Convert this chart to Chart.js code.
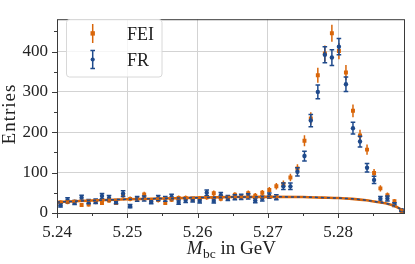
<!DOCTYPE html>
<html>
<head>
<meta charset="utf-8">
<script src="https://cdn.jsdelivr.net/npm/chart.js@4.4.1/dist/chart.umd.min.js"></script>
<style>
  html, body { margin: 0; padding: 0; background: #fff; }
  #wrap { width: 415px; height: 264px; }
</style>
</head>
<body>
<div id="wrap"><canvas id="chart"></canvas></div>
<script>
// bin centres in GeV (50 bins, 5.24 - 5.2895)
const binCenters = [
  5.2405, 5.2415, 5.2425, 5.2435, 5.2445, 5.2455, 5.2464, 5.2474, 5.2484, 5.2494,
  5.2504, 5.2514, 5.2524, 5.2534, 5.2544, 5.2554, 5.2563, 5.2573, 5.2583, 5.2593,
  5.2603, 5.2613, 5.2623, 5.2633, 5.2643, 5.2653, 5.2662, 5.2672, 5.2682, 5.2692,
  5.2702, 5.2712, 5.2722, 5.2732, 5.2742, 5.2752, 5.2761, 5.2771, 5.2781, 5.2791,
  5.2801, 5.2811, 5.2821, 5.2831, 5.2841, 5.2851, 5.2860, 5.2870, 5.2880, 5.2890
];
const feiCounts = [
  26, 27, 28, 20, 21, 27, 25, 31, 25, 44,
  35, 35, 46, 30, 32, 25, 33, 37, 37, 33,
  36, 39, 49, 35, 36, 45, 40, 49, 43, 50,
  57, 66, 72, 88, 110, 179, 234, 341, 395, 445,
  401, 348, 253, 192, 157, 99, 61, 44, 29, 5
];
const feiErrors = [
  5.1, 5.2, 5.3, 4.5, 4.6, 5.2, 5.0, 5.6, 5.0, 6.6,
  5.9, 5.9, 6.8, 5.5, 5.7, 5.0, 5.7, 6.1, 6.1, 5.7,
  6.0, 6.2, 7.0, 5.9, 6.0, 6.7, 6.3, 7.0, 6.6, 7.1,
  7.5, 8.1, 8.5, 9.4, 10.5, 13.4, 15.3, 18.5, 19.9, 21.1,
  20.0, 18.7, 15.9, 13.9, 12.5, 9.9, 7.8, 6.6, 5.4, 2.2
];
const frCounts = [
  19, 32, 26, 38, 28, 29, 42, 37, 28, 48,
  17, 35, 36, 28, 37, 35, 40, 27, 32, 33,
  30, 50, 30, 44, 37, 39, 40, 41, 31, 36,
  43, 39, 66, 66, 102, 141, 229, 300, 392, 385,
  412, 319, 210, 177, 112, 82, 35, 36, 21, 7
];
const frErrors = [
  4.4, 5.7, 5.1, 6.2, 5.3, 5.4, 6.5, 6.1, 5.3, 6.9,
  4.1, 5.9, 6.0, 5.3, 6.1, 5.9, 6.3, 5.2, 5.7, 5.7,
  5.5, 7.1, 5.5, 6.6, 6.1, 6.2, 6.3, 6.4, 5.6, 6.0,
  6.6, 6.2, 8.1, 8.1, 10.1, 11.9, 15.1, 17.3, 19.8, 19.6,
  20.3, 17.9, 14.5, 13.3, 10.6, 9.1, 5.9, 6.0, 4.6, 2.6
];
// background (ARGUS-like) fit curves
const bkgMass = [5.2400, 5.2450, 5.2500, 5.2550, 5.2600, 5.2650, 5.2700, 5.2750, 5.2780,
                 5.2800, 5.2820, 5.2840, 5.2860, 5.2870, 5.2880, 5.2885, 5.2890, 5.2895];
const bkgFEI = [27, 31, 34, 36, 38, 39.5, 40, 39.5, 38, 37, 35, 31.5, 26, 23, 17.5, 13.5, 8, 0];
const bkgFR  = [27, 31, 34, 36, 38, 39.5, 40, 39.5, 38, 37, 35, 31.5, 26, 23, 17.5, 13.5, 8, 0];
const xTicks = [5.24, 5.25, 5.26, 5.27, 5.28];
const yTicks = [0, 100, 200, 300, 400];

const ORANGE = '#d9660a';
const BLUE = '#1f4a8c';
const SERIF = '"Liberation Serif", "DejaVu Serif", serif';

const pts = (xs, ys) => xs.map((x, i) => ({ x, y: ys[i] }));
const isMajorX = v => xTicks.some(t => Math.abs(t - v) < 1e-6);
const isMajorY = v => yTicks.includes(Math.round(v));

function drawErrorBar(ctx, px, top, bot, color, cap) {
    ctx.strokeStyle = color;
    ctx.lineWidth = 1.5;
    ctx.beginPath();
    ctx.moveTo(px, top); ctx.lineTo(px, bot);
    if (cap) {
        ctx.moveTo(px - cap, top); ctx.lineTo(px + cap, top);
        ctx.moveTo(px - cap, bot); ctx.lineTo(px + cap, bot);
    }
    ctx.stroke();
}

const errorBars = {
    id: 'errorBars',
    beforeDatasetDraw(chart, args) {
        const ds = chart.data.datasets[args.index];
        if (!ds.errors) return;
        const { x, y } = chart.scales;
        const ctx = chart.ctx;
        ctx.save();
        ctx.beginPath();
        ctx.rect(chart.chartArea.left, chart.chartArea.top, chart.chartArea.width, chart.chartArea.height);
        ctx.clip();
        ds.data.forEach((p, i) => {
            const px = x.getPixelForValue(p.x);
            drawErrorBar(ctx, px, y.getPixelForValue(p.y + ds.errors[i]), y.getPixelForValue(p.y - ds.errors[i]), ds.borderColor, ds.capSize);
        });
        ctx.restore();
    }
};

// frame, tick marks, axis titles and legend
const decorations = {
    id: 'decorations',
    afterDraw(chart) {
        const ctx = chart.ctx;
        const a = chart.chartArea;
        const { x, y } = chart.scales;
        ctx.save();
        ctx.strokeStyle = '#3a3a3a';
        ctx.lineWidth = 1;
        ctx.strokeRect(a.left + 0.5, a.top + 0.5, a.width - 1, a.height);

        ctx.beginPath();
        x.ticks.forEach(t => {
            const px = Math.round(x.getPixelForValue(t.value)) + 0.5;
            ctx.moveTo(px, a.bottom); ctx.lineTo(px, a.bottom + (isMajorX(t.value) ? 5 : 3));
        });
        y.ticks.forEach(t => {
            const py = Math.round(y.getPixelForValue(t.value)) + 0.5;
            ctx.moveTo(a.left, py); ctx.lineTo(a.left - (isMajorY(t.value) ? 5 : 3), py);
        });
        ctx.stroke();

        // x title: M_bc in GeV
        ctx.fillStyle = '#222';
        ctx.textBaseline = 'alphabetic';
        const big = '19px ' + SERIF, ital = 'italic 19px ' + SERIF, small = '13.5px ' + SERIF;
        ctx.font = ital; const wM = ctx.measureText('M').width;
        ctx.font = small; const wS = ctx.measureText('bc').width;
        ctx.font = big; const wR = ctx.measureText(' in GeV').width;
        let cx = (a.left + a.right) / 2 - (wM + wS + wR) / 2;
        const base = 254;
        ctx.font = ital; ctx.fillText('M', cx, base); cx += wM + 0.5;
        ctx.font = small; ctx.fillText('bc', cx, base + 3.5); cx += wS;
        ctx.font = big; ctx.fillText(' in GeV', cx, base);

        // y title
        ctx.save();
        ctx.translate(15, 114);
        ctx.rotate(-Math.PI / 2);
        ctx.textAlign = 'center';
        ctx.textBaseline = 'alphabetic';
        ctx.font = big;
        ctx.letterSpacing = '1px';
        ctx.fillText('Entries', 0, 0);
        ctx.restore();

        // legend
        const lx = 66.5, ly = 19.5, lw = 95.5, lh = 57.5;
        ctx.beginPath();
        ctx.roundRect(lx, ly, lw, lh, 3);
        ctx.fillStyle = 'rgba(255,255,255,0.8)';
        ctx.fill();
        ctx.strokeStyle = '#d8d8d8';
        ctx.stroke();

        drawErrorBar(ctx, 92.7, 24, 43, ORANGE, 0);
        ctx.fillStyle = ORANGE;
        ctx.fillRect(90.5, 31.2, 4.4, 4.4);
        drawErrorBar(ctx, 92.7, 50.5, 68.5, BLUE, 2.3);
        ctx.fillStyle = BLUE;
        ctx.beginPath(); ctx.arc(92.7, 59.5, 2.1, 0, Math.PI * 2); ctx.fill();

        ctx.fillStyle = '#222';
        ctx.font = '18px ' + SERIF;
        ctx.textBaseline = 'alphabetic';
        ctx.fillText('FEI', 127, 40);
        ctx.fillText('FR', 127, 66);
        ctx.restore();
    }
};

new Chart(document.getElementById('chart'), {
    type: 'scatter',
    data: {
        datasets: [
            {
                label: 'FR fit', type: 'line', data: pts(bkgMass, bkgFR), order: 1,
                borderColor: BLUE, borderWidth: 1.5, borderDash: [3, 3], pointRadius: 0,
                cubicInterpolationMode: 'monotone', fill: false
            },
            {
                label: 'FEI fit', type: 'line', data: pts(bkgMass, bkgFEI), order: 2,
                borderColor: ORANGE, borderWidth: 2.6, pointRadius: 0,
                cubicInterpolationMode: 'monotone', fill: false
            },
            {
                label: 'FR', data: pts(binCenters, frCounts), errors: frErrors, capSize: 2.3, order: 3,
                borderColor: BLUE, backgroundColor: BLUE, pointStyle: 'circle', pointRadius: 2.2, borderWidth: 0
            },
            {
                label: 'FEI', data: pts(binCenters, feiCounts), errors: feiErrors, capSize: 0, order: 4,
                borderColor: ORANGE, backgroundColor: ORANGE, pointStyle: 'rect', pointRadius: 2.8, borderWidth: 0
            }
        ]
    },
    options: {
        responsive: true,
        maintainAspectRatio: false,
        animation: false,
        layout: { padding: { top: 10, right: 10, left: 0, bottom: 0 } },
        plugins: { legend: { display: false }, tooltip: { enabled: false } },
        scales: {
            x: {
                type: 'linear', min: 5.24, max: 5.2895,
                afterFit: s => { s.height = 51; },
                border: { display: false },
                grid: { color: c => isMajorX(c.tick.value) ? '#d3d3d3' : 'rgba(0,0,0,0)', drawTicks: false },
                ticks: {
                    stepSize: 0.005, includeBounds: false, autoSkip: false, maxRotation: 0, padding: 9,
                    color: '#222', font: { family: SERIF, size: 17 },
                    callback: v => isMajorX(v) ? v.toFixed(2) : ''
                }
            },
            y: {
                min: 0, max: 480,
                afterFit: s => { s.width = 57; },
                border: { display: false },
                grid: { color: c => isMajorY(c.tick.value) ? '#d3d3d3' : 'rgba(0,0,0,0)', drawTicks: false },
                ticks: {
                    stepSize: 50, includeBounds: false, autoSkip: false, padding: 9,
                    color: '#222', font: { family: SERIF, size: 17 },
                    callback: v => isMajorY(v) ? String(v) : ''
                }
            }
        }
    },
    plugins: [errorBars, decorations]
});
</script>
</body>
</html>
